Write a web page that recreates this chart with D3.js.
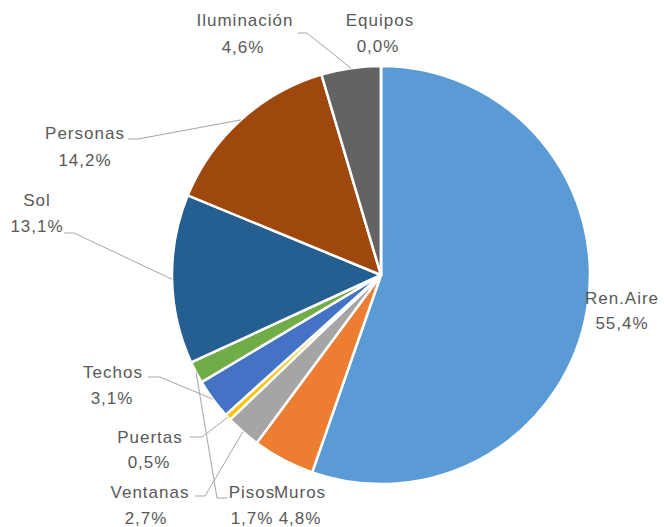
<!DOCTYPE html>
<html>
<head>
<meta charset="utf-8">
<script src="https://cdn.jsdelivr.net/npm/d3@7"></script>
<style>
  html, body { margin: 0; padding: 0; background: #fff; }
  svg { display: block; }
  text { font-family: "Liberation Sans", Arial, sans-serif; font-size: 17px; fill: #595959; letter-spacing: 1px; }
</style>
</head>
<body>
<svg id="chart" width="664" height="527"></svg>
<script>
const categories = ["Ren.Aire", "Muros", "Ventanas", "Puertas", "Techos", "Pisos", "Sol", "Personas", "Iluminación", "Equipos"];
const values = [55.4, 4.8, 2.7, 0.5, 3.1, 1.7, 13.1, 14.2, 4.6, 0.0];
const colors = ["#5B9BD5", "#ED7D31", "#A5A5A5", "#FFC000", "#4472C4", "#70AD47", "#255E91", "#9E480E", "#636363", "#997300"];

// label layout: [name x, name y, pct x, pct y, leader start x, leader start y, leader dir]
const labelLayout = [
  [622, 298, 622, 323, null],
  [300, 492, 300, 518, null],
  [150, 492, 146, 518, [195, 496, 10]],
  [150, 437, 149, 462, [190, 437, 12]],
  [113, 372, 112, 398, [148, 377, 12]],
  [252, 492, 252, 518, [227, 498, -10]],
  [37, 200, 37, 226, [64, 233, 10]],
  [85, 133, 85, 160, [128, 139, 10]],
  [245, 20, 243, 47, [298, 33, 9]],
  [380, 20, 378, 46, null]
];

const svg = d3.select("#chart");
const cx = 381, cy = 275, r = 209;
const g = svg.append("g").attr("transform", `translate(${cx},${cy})`);

const pie = d3.pie().sort(null).value(d => d.value);
const data = categories.map((c, i) => ({ name: c, value: values[i], color: colors[i], layout: labelLayout[i] }));
const arcs = pie(data);
const arc = d3.arc().innerRadius(0).outerRadius(r);
const edgeArc = d3.arc().innerRadius(r).outerRadius(r);

g.selectAll("path.slice")
  .data(arcs)
  .enter().append("path")
  .attr("class", "slice")
  .attr("d", arc)
  .attr("fill", d => d.data.color)
  .attr("stroke", "#fff")
  .attr("stroke-width", 2.5)
  .attr("stroke-linejoin", "round");

const fmt = v => d3.format(".1f")(v).replace(".", ",") + "%";

// leader lines
arcs.forEach(d => {
  const L = d.data.layout[4];
  if (!L) return;
  const [sx, sy, dx] = L;
  const p = edgeArc.centroid(d);
  const ex = p[0] + cx, ey = p[1] + cy;
  svg.append("polyline")
    .attr("points", `${sx},${sy} ${sx + dx},${sy} ${ex},${ey}`)
    .attr("fill", "none")
    .attr("stroke", "#A6A6A6")
    .attr("stroke-width", 1);
});

// labels
arcs.forEach(d => {
  const L = d.data.layout;
  svg.append("text")
    .attr("x", L[0]).attr("y", L[1])
    .attr("text-anchor", "middle")
    .attr("dominant-baseline", "central")
    .text(d.data.name);
  svg.append("text")
    .attr("x", L[2]).attr("y", L[3])
    .attr("text-anchor", "middle")
    .attr("dominant-baseline", "central")
    .text(fmt(d.data.value));
});
</script>
</body>
</html>
